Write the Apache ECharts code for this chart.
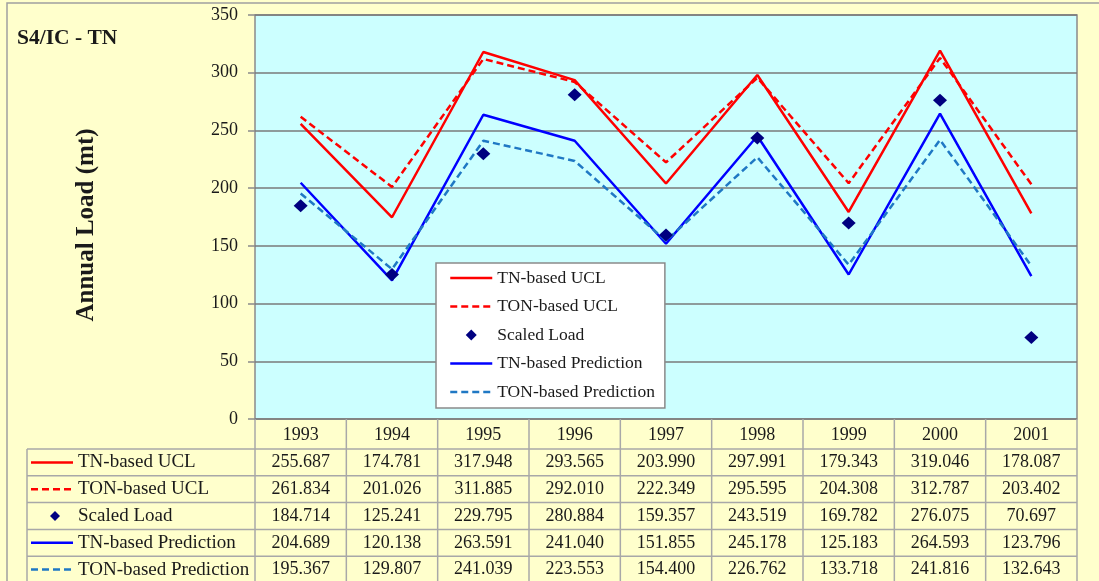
<!DOCTYPE html>
<html><head><meta charset="utf-8">
<script src="https://cdn.jsdelivr.net/npm/echarts@6/dist/echarts.min.js"></script>
<style>html,body{margin:0;padding:0;background:#FFFFCC}#c{width:1099px;height:581px}</style>
</head><body><div id="c"></div>
<script>
const years = ['1993','1994','1995','1996','1997','1998','1999','2000','2001'];
const tnUCL = [255.687,174.781,317.948,293.565,203.990,297.991,179.343,319.046,178.087];
const tonUCL = [261.834,201.026,311.885,292.010,222.349,295.595,204.308,312.787,203.402];
const scaledLoad = [184.714,125.241,229.795,280.884,159.357,243.519,169.782,276.075,70.697];
const tnPred = [204.689,120.138,263.591,241.040,151.855,245.178,125.183,264.593,123.796];
const tonPred = [195.367,129.807,241.039,223.553,154.400,226.762,133.718,241.816,132.643];
const seriesNames = ['TN-based UCL','TON-based UCL','Scaled Load','TN-based Prediction','TON-based Prediction'];
const yMin = 0, yMax = 350, yStep = 50;

const FONT = 'Liberation Serif';
const TXT = '#1a1a1a';
const RED = '#FF0000', BLUE = '#0000FF', LBLUE = '#1F78C4', NAVY = '#000080';
const DIAMOND = 'path://M0,-1L1,0L0,1L-1,0Z';

const chart = echarts.init(document.getElementById('c'));
const lineSeries = (name, data, color, dashed) => ({
  name, type: 'line', data, symbol: 'none', z: 3,
  lineStyle: { color, width: 2.5, type: dashed ? [7, 4] : 'solid' },
  itemStyle: { color }
});
const hideSym = { opacity: 0 };
chart.setOption({
  backgroundColor: '#FFFFCC',
  animation: false,
  title: { text: 'S4/IC - TN', left: 12, top: 22,
    textStyle: { fontFamily: FONT, fontSize: 21.5, fontWeight: 'bold', color: TXT } },
  grid: { left: 255, top: 15, width: 822, height: 404, show: true,
    backgroundColor: '#CCFFFF', borderColor: '#8a8a8a', borderWidth: 1.5 },
  legend: {
    orient: 'vertical', left: 436, top: 263,
    backgroundColor: '#ffffff', borderColor: '#8a8a8a', borderWidth: 1.5,
    padding: [6, 10, 7, 13], itemWidth: 42, itemHeight: 11, itemGap: 10.5,
    textStyle: { fontFamily: FONT, fontSize: 17.5, color: TXT },
    lineStyle: { width: 2.5 },
    data: [
      { name: seriesNames[0], itemStyle: hideSym },
      { name: seriesNames[1], itemStyle: hideSym },
      { name: seriesNames[2], icon: DIAMOND },
      { name: seriesNames[3], itemStyle: hideSym },
      { name: seriesNames[4], itemStyle: hideSym }
    ]
  },
  xAxis: { type: 'category', data: years, boundaryGap: true,
    axisLine: { show: false }, axisTick: { show: false },
    axisLabel: { fontFamily: FONT, fontSize: 18, color: TXT, margin: 7 } },
  yAxis: { type: 'value', min: yMin, max: yMax, interval: yStep,
    axisLine: { show: false },
    axisTick: { show: true, length: 7, lineStyle: { color: '#8a8a8a', width: 1.5 } },
    axisLabel: { fontFamily: FONT, fontSize: 18, color: TXT, margin: 17 },
    splitLine: { lineStyle: { color: '#7a7a7a', width: 1.5 } } },
  series: [
    lineSeries(seriesNames[0], tnUCL, RED, false),
    lineSeries(seriesNames[1], tonUCL, RED, true),
    { name: seriesNames[2], type: 'scatter', data: scaledLoad, symbol: 'diamond', symbolSize: [14, 13], z: 5,
      itemStyle: { color: NAVY, opacity: 1 } },
    lineSeries(seriesNames[3], tnPred, BLUE, false),
    lineSeries(seriesNames[4], tonPred, LBLUE, true)
  ]
});

// data table under the plot
const rows = [tnUCL, tonUCL, scaledLoad, tnPred, tonPred];
const rowColors = [RED, RED, NAVY, BLUE, LBLUE];
const rowDash = [false, true, null, false, true];
const centers = years.map(y => chart.convertToPixel({ xAxisIndex: 0 }, y));
const half = (centers[1] - centers[0]) / 2;
const plotBottom = 419, tableLeft = 27, plotRight = centers[centers.length - 1] + half;
const headerBottom = 449, rowH = 26.8;
const LINE = '#a8a8a8';
const g = [];
g.push({ type: 'rect', shape: { x: 7, y: 3, width: 1200, height: 700 }, style: { fill: 'none', stroke: '#a0a0a0', lineWidth: 1.5 }, z: -1 });
for (let i = 0; i <= years.length; i++) {
  const x = centers[0] - half + i * 2 * half;
  g.push({ type: 'line', shape: { x1: x, y1: plotBottom, x2: x, y2: 600 }, style: { stroke: LINE, lineWidth: 1.5 } });
}
g.push({ type: 'line', shape: { x1: tableLeft, y1: headerBottom, x2: tableLeft, y2: 600 }, style: { stroke: LINE, lineWidth: 1.5 } });
for (let r = 0; r < rows.length; r++) {
  const yTop = headerBottom + r * rowH;
  const yc = yTop + rowH / 2;
  g.push({ type: 'line', shape: { x1: tableLeft, y1: yTop, x2: plotRight, y2: yTop }, style: { stroke: LINE, lineWidth: 1.5 } });
  if (rowDash[r] === null) {
    g.push({ type: 'polygon', shape: { points: [[55, yc - 5], [60, yc], [55, yc + 5], [50, yc]] }, style: { fill: rowColors[r] } });
  } else {
    g.push({ type: 'line', shape: { x1: 31, y1: yc, x2: 73, y2: yc },
      style: { stroke: rowColors[r], lineWidth: 2.5, lineDash: rowDash[r] ? [7, 4] : null } });
  }
  g.push({ type: 'text', x: 78, y: yc, style: { text: seriesNames[r], font: '19px "' + FONT + '"', fill: TXT, align: 'left', verticalAlign: 'middle' } });
  rows[r].forEach((v, i) => {
    g.push({ type: 'text', x: centers[i], y: yc, style: { text: v.toFixed(3), font: '18px "' + FONT + '"', fill: TXT, align: 'center', verticalAlign: 'middle' } });
  });
}
g.push({ type: 'text', x: 87, y: 225, rotation: Math.PI / 2,
  style: { text: 'Annual Load (mt)', font: 'bold 25px "' + FONT + '"', fill: TXT, align: 'center', verticalAlign: 'middle' } });
chart.setOption({ graphic: g });
</script>
</body></html>
